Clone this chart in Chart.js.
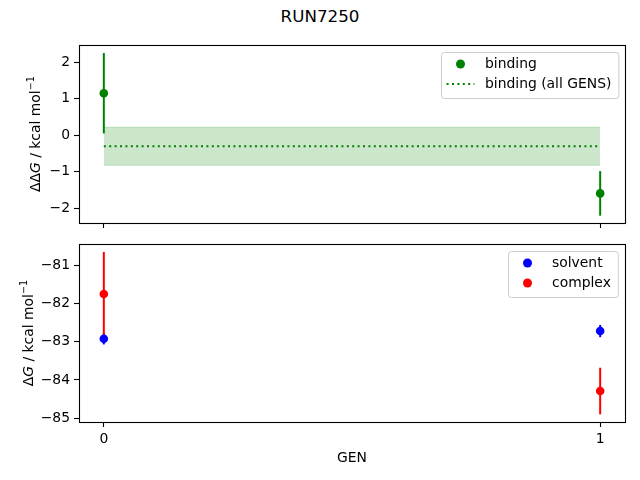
<!DOCTYPE html>
<html>
<head>
<meta charset="utf-8">
<script src="https://cdn.jsdelivr.net/npm/chart.js@4"></script>
<style>
  body { margin: 0; width: 640px; height: 480px; position: relative; background: #fff;
         font-family: "DejaVu Sans", sans-serif; overflow: hidden; color: #000; }
  .box { position: absolute; left: 0; width: 640px; height: 240px; }
  #title { position: absolute; top: 6px; left: 0; width: 640px; text-align: center;
           font-size: 16.7px; line-height: 20px; }
  #xlabel { position: absolute; top: 447px; left: 79px; width: 546px; text-align: center;
            font-size: 13.9px; line-height: 20px; }
  .ylab { position: absolute; font-size: 13.9px; white-space: nowrap; line-height: 16px;
          transform: translate(-50%, -50%) rotate(-90deg); }
  .ylab sup { font-size: 9.7px; }
</style>
</head>
<body>
<div id="title">RUN7250</div>
<div class="box" style="top:0"><canvas id="chartBinding"></canvas></div>
<div class="box" style="top:240px"><canvas id="chartLegs"></canvas></div>
<div class="ylab" style="left:33px; top:134px">&Delta;&Delta;<i>G</i> / kcal mol<sup>&minus;1</sup></div>
<div class="ylab" style="left:26px; top:333px">&Delta;<i>G</i> / kcal mol<sup>&minus;1</sup></div>
<div id="xlabel">GEN</div>
<script>
// values
const gens = [0, 1];
const genTicks = [0, 1];
const bindingDG = [1.15, -1.59];
const bindingErr = [1.10, 0.61];
const allGensDG = [-0.30, -0.30];
const allGensErr = [0.52, 0.52];
const solventG = [-82.92, -82.72];
const solventErr = [0.15, 0.16];
const complexG = [-81.75, -84.29];
const complexErr = [1.10, 0.61];
const topTicks = [-2, -1, 0, 1, 2];
const bottomTicks = [-85, -84, -83, -82, -81];

const FONT = "DejaVu Sans";
const pts = (ys) => gens.map((g, i) => ({ x: g, y: ys[i] }));
const minus = (v) => String(v).replace("-", "\u2212");

// vertical error bars through the chart's scales
const errorBars = {
  id: "errorBars",
  beforeDatasetsDraw(chart) {
    const { ctx, scales: { x, y } } = chart;
    chart.data.datasets.forEach((ds) => {
      if (!ds.errors) return;
      ctx.save();
      ctx.strokeStyle = ds.backgroundColor;
      ctx.lineWidth = 2;
      ds.data.forEach((p, i) => {
        const px = x.getPixelForValue(p.x);
        ctx.beginPath();
        ctx.moveTo(px, y.getPixelForValue(p.y - ds.errors[i]));
        ctx.lineTo(px, y.getPixelForValue(p.y + ds.errors[i]));
        ctx.stroke();
      });
      ctx.restore();
    });
  },
};

// frame round the axes
const frame = {
  id: "frame",
  afterDatasetsDraw(chart) {
    const { ctx, chartArea: a } = chart;
    ctx.save();
    ctx.strokeStyle = "#000";
    ctx.lineWidth = 1.1;
    ctx.strokeRect(Math.round(a.left) + 0.5, Math.round(a.top) + 0.5,
      Math.round(a.right - a.left), Math.round(a.bottom - a.top));
    ctx.restore();
  },
};

// matplotlib-like legend in the upper right corner
const mplLegend = {
  id: "mplLegend",
  afterDraw(chart, args, opts) {
    if (!opts.items) return;
    const { ctx, chartArea } = chart;
    ctx.save();
    ctx.font = "13.9px '" + FONT + "'";
    const tw = Math.max(...opts.items.map((it) => ctx.measureText(it.label).width));
    const w = 44 + tw + 7, h = 46;
    const x = Math.round(chartArea.right - 7 - w), y = Math.round(chartArea.top + 7);
    ctx.fillStyle = "rgba(255,255,255,0.8)";
    ctx.strokeStyle = "#cccccc";
    ctx.lineWidth = 1;
    ctx.beginPath();
    ctx.roundRect(x + 0.5, y + 0.5, w, h, 3);
    ctx.fill();
    ctx.stroke();
    opts.items.forEach((it, i) => {
      const cy = y + 12 + i * 20;
      if (it.kind === "dot") {
        ctx.fillStyle = it.color;
        ctx.beginPath();
        ctx.arc(x + 19.5, cy, 4.5, 0, Math.PI * 2);
        ctx.fill();
      } else {
        ctx.strokeStyle = it.color;
        ctx.lineWidth = 2;
        ctx.setLineDash([2, 3.4]);
        ctx.beginPath();
        ctx.moveTo(x + 5.6, cy);
        ctx.lineTo(x + 33.4, cy);
        ctx.stroke();
        ctx.setLineDash([]);
      }
      ctx.fillStyle = "#000";
      ctx.textBaseline = "middle";
      ctx.fillText(it.label, x + 44, cy);
    });
    ctx.restore();
  },
};

const makeOptions = (yMin, yMax, yTicks, xLabels, padTop, xHeight, legendItems) => ({
  responsive: false,
  animation: false,
  events: [],
  devicePixelRatio: 1,
  layout: { padding: { top: padTop, right: 15, left: 0, bottom: 0 } },
  plugins: { legend: { display: false }, tooltip: { enabled: false }, mplLegend: { items: legendItems } },
  scales: {
    x: {
      type: "linear",
      min: -0.05,
      max: 1.05,
      afterBuildTicks: (s) => { s.ticks = genTicks.map((v) => ({ value: v })); },
      afterFit: (s) => { s.height = xHeight; s.paddingLeft = 0; s.paddingRight = 0; },
      grid: { drawOnChartArea: false, tickLength: 5, tickColor: "#000", tickWidth: 1.1 },
      border: { display: false },
      ticks: {
        padding: 4,
        color: "#000",
        font: { family: FONT, size: 13.9 },
        maxRotation: 0,
        callback: (v) => (xLabels ? String(v) : ""),
      },
    },
    y: {
      min: yMin,
      max: yMax,
      afterBuildTicks: (s) => { s.ticks = yTicks.map((v) => ({ value: v })); },
      afterFit: (s) => { s.width = 79; s.paddingTop = 0; s.paddingBottom = 0; },
      grid: { drawOnChartArea: false, tickLength: 5, tickColor: "#000", tickWidth: 1.1 },
      border: { display: false },
      ticks: { padding: 4, color: "#000", font: { family: FONT, size: 13.9 }, callback: minus },
    },
  },
});

const setSize = (id) => {
  const c = document.getElementById(id);
  c.width = 640; c.height = 240;
  c.style.width = "640px"; c.style.height = "240px";
  return c;
};

// top: binding free energy
new Chart(setSize("chartBinding"), {
  type: "scatter",
  data: {
    datasets: [
      {
        label: "binding",
        data: pts(bindingDG),
        errors: bindingErr,
        backgroundColor: "#008000",
        borderWidth: 0,
        pointRadius: 4.3,
      },
      {
        label: "binding (all GENS)",
        data: pts(allGensDG),
        showLine: true,
        pointRadius: 0,
        borderColor: "#008000",
        borderWidth: 2,
        borderDash: [2, 3.4],
      },
      {
        label: "upper",
        data: pts(allGensDG.map((v, i) => v + allGensErr[i])),
        showLine: true,
        pointRadius: 0,
        borderColor: "rgba(0,128,0,0.2)",
        borderWidth: 1,
        backgroundColor: "rgba(0,128,0,0.2)",
        fill: "+1",
      },
      {
        label: "lower",
        data: pts(allGensDG.map((v, i) => v - allGensErr[i])),
        showLine: true,
        pointRadius: 0,
        borderColor: "rgba(0,128,0,0.2)",
        borderWidth: 1,
      },
    ],
  },
  options: makeOptions(-2.40, 2.47, topTicks, false, 45, 17, [
    { label: "binding", color: "#008000", kind: "dot" },
    { label: "binding (all GENS)", color: "#008000", kind: "dotted" },
  ]),
  plugins: [errorBars, frame, mplLegend],
});

// bottom: solvent and complex legs
new Chart(setSize("chartLegs"), {
  type: "scatter",
  data: {
    datasets: [
      {
        label: "solvent",
        data: pts(solventG),
        errors: solventErr,
        backgroundColor: "#0000ff",
        borderWidth: 0,
        pointRadius: 4.3,
      },
      {
        label: "complex",
        data: pts(complexG),
        errors: complexErr,
        backgroundColor: "#ff0000",
        borderWidth: 0,
        pointRadius: 4.3,
      },
    ],
  },
  options: makeOptions(-85.10, -80.45, bottomTicks, true, 3, 58, [
    { label: "solvent", color: "#0000ff", kind: "dot" },
    { label: "complex", color: "#ff0000", kind: "dot" },
  ]),
  plugins: [errorBars, frame, mplLegend],
});
</script>
</body>
</html>
